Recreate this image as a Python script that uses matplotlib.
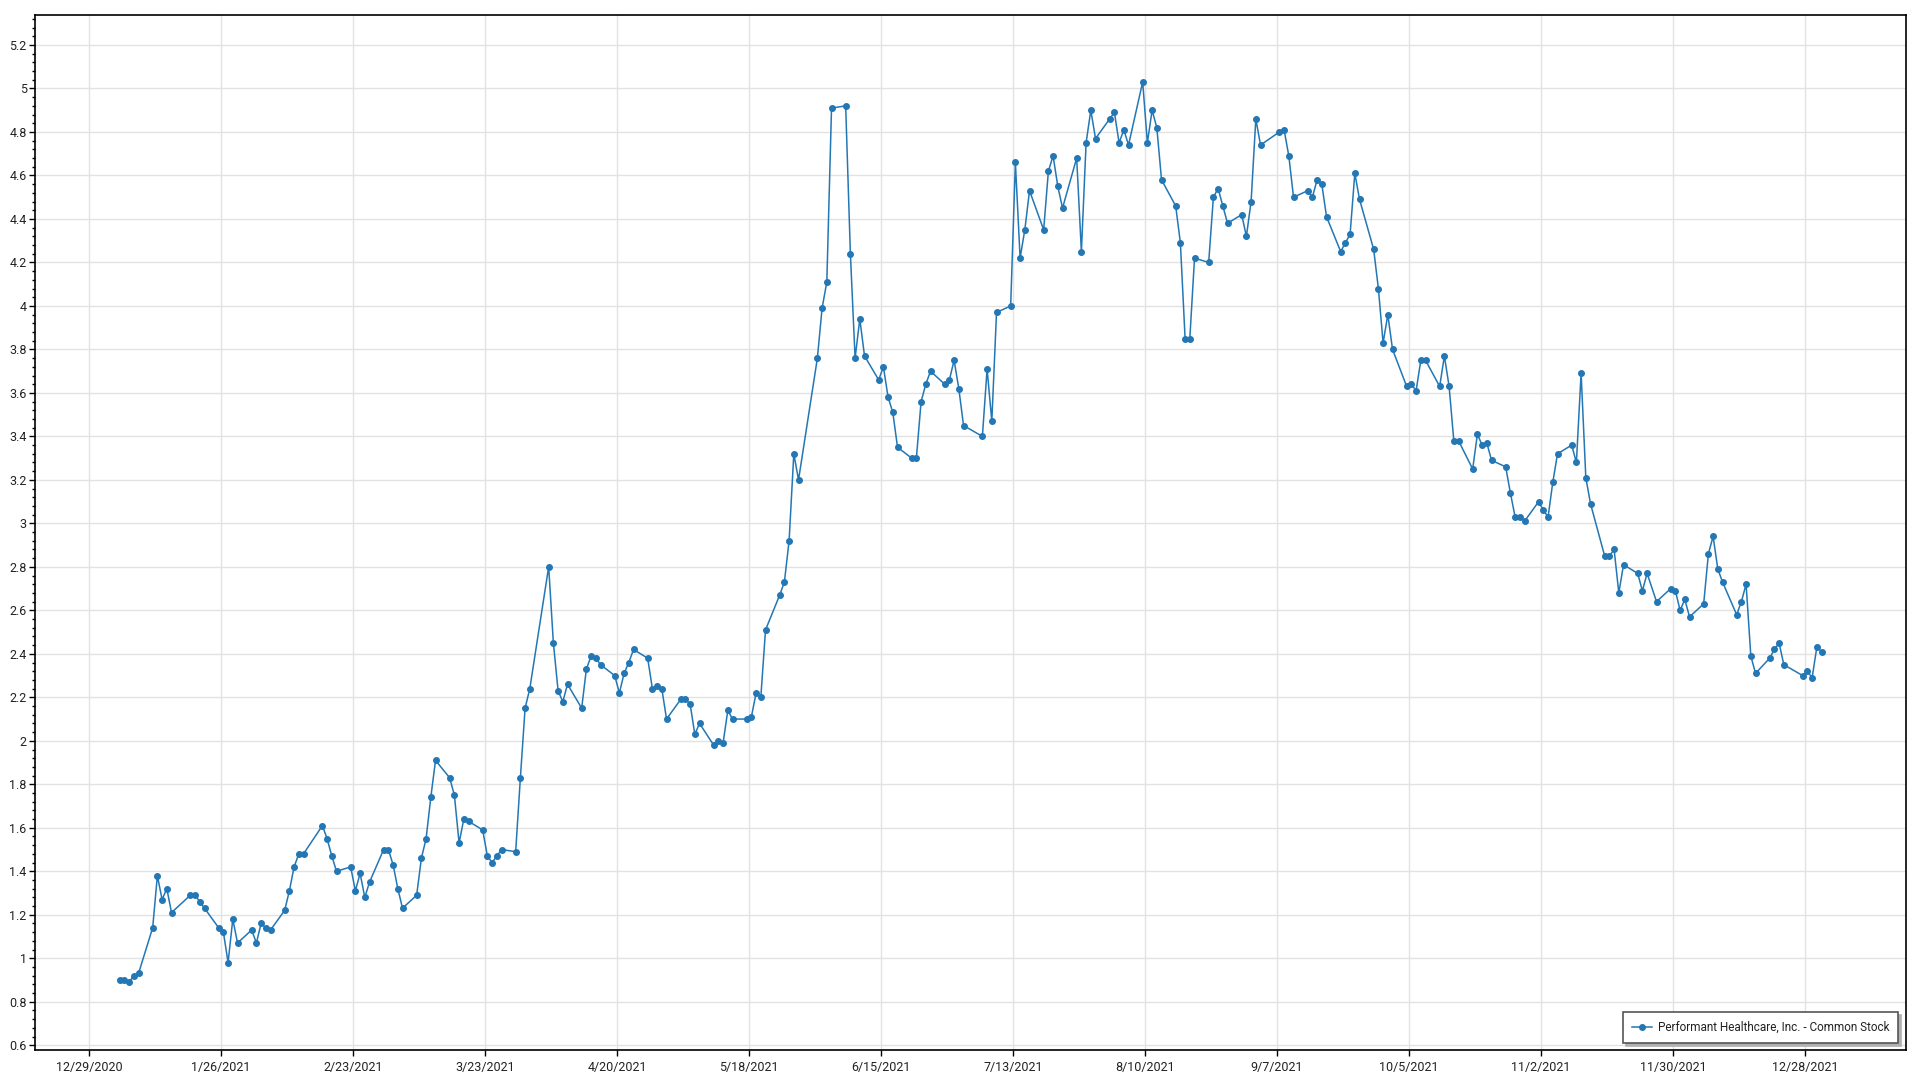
import numpy as np
import pandas as pd
import matplotlib
matplotlib.use('Agg')
import matplotlib.pyplot as plt
from matplotlib.ticker import MultipleLocator

plt.rcParams['font.family'] = ['Roboto', 'DejaVu Sans']

# --- Data (closing price per trading day) ---
series_name = 'Performant Healthcare, Inc. - Common Stock'

market_holidays = ['2021-01-01', '2021-01-18', '2021-02-15', '2021-04-02', '2021-05-31',
                   '2021-07-05', '2021-09-06', '2021-11-25', '2021-12-24']

jan = [0.90, 0.90, 0.89, 0.92, 0.93, 1.14, 1.38, 1.27, 1.32, 1.21,
       1.29, 1.29, 1.26, 1.23, 1.14, 1.12, 0.98, 1.18, 1.07]
feb = [1.13, 1.07, 1.16, 1.14, 1.13, 1.22, 1.31, 1.42, 1.48, 1.48,
       1.61, 1.55, 1.47, 1.40, 1.42, 1.31, 1.39, 1.28, 1.35]
mar = [1.50, 1.50, 1.43, 1.32, 1.23, 1.29, 1.46, 1.55, 1.74, 1.91,
       1.83, 1.75, 1.53, 1.64, 1.63, 1.59, 1.47, 1.44, 1.47, 1.50,
       1.49, 1.83, 2.15]
apr = [2.24, 2.80, 2.45, 2.23, 2.18, 2.26, 2.15, 2.33, 2.39, 2.38,
       2.35, 2.30, 2.22, 2.31, 2.36, 2.42, 2.38, 2.24, 2.25, 2.24, 2.10]
may = [2.19, 2.19, 2.17, 2.03, 2.08, 1.98, 2.00, 1.99, 2.14, 2.10,
       2.10, 2.11, 2.22, 2.20, 2.51, 2.67, 2.73, 2.92, 3.32, 3.20]
jun = [3.76, 3.99, 4.11, 4.91, 4.92, 4.24, 3.76, 3.94, 3.77, 3.66,
       3.72, 3.58, 3.51, 3.35, 3.30, 3.30, 3.56, 3.64, 3.70, 3.64,
       3.66, 3.75]
jul = [3.62, 3.45, 3.40, 3.71, 3.47, 3.97, 4.00, 4.66, 4.22, 4.35,
       4.53, 4.35, 4.62, 4.69, 4.55, 4.45, 4.68, 4.25, 4.75, 4.90, 4.77]
aug = [4.86, 4.89, 4.75, 4.81, 4.74, 5.03, 4.75, 4.90, 4.82, 4.58,
       4.46, 4.29, 3.85, 3.85, 4.22, 4.20, 4.50, 4.54, 4.46, 4.38,
       4.42, 4.32]
sep = [4.48, 4.86, 4.74, 4.80, 4.81, 4.69, 4.50, 4.53, 4.50, 4.58,
       4.56, 4.41, 4.25, 4.29, 4.33, 4.61, 4.49, 4.26, 4.08, 3.83, 3.96]
oct_ = [3.80, 3.63, 3.64, 3.61, 3.75, 3.75, 3.63, 3.77, 3.63, 3.38,
        3.38, 3.25, 3.41, 3.36, 3.37, 3.29, 3.26, 3.14, 3.03, 3.03, 3.01]
nov = [3.10, 3.06, 3.03, 3.19, 3.32, 3.36, 3.28, 3.69, 3.21, 3.09,
       2.85, 2.85, 2.88, 2.68, 2.81, 2.77, 2.69, 2.77, 2.64, 2.70, 2.69]
dec = [2.60, 2.65, 2.57, 2.63, 2.86, 2.94, 2.79, 2.73, 2.58, 2.64,
       2.72, 2.39, 2.31, 2.38, 2.42, 2.45, 2.35, 2.30, 2.32, 2.29,
       2.43, 2.41]

prices = jan + feb + mar + apr + may + jun + jul + aug + sep + oct_ + nov + dec
dates = pd.bdate_range('2021-01-04', '2021-12-31', freq='C', holidays=market_holidays)
n = min(len(dates), len(prices))
dates = dates[:n] + pd.Timedelta(hours=12)
prices = prices[:n]

# --- Plot ---
fig = plt.figure(figsize=(19.2, 10.8), dpi=100)
ax = fig.add_axes([35 / 1920, 30 / 1080, 1871 / 1920, 1035 / 1080])

ax.plot(dates, prices, color='#2377b4', linewidth=1.1, marker='o', markersize=4,
        label=series_name, zorder=3)

# axis ranges
ax.set_ylim(0.578, 5.338)
ax.set_xlim(pd.Timestamp('2020-12-17 13:00'), pd.Timestamp('2022-01-18 10:00'))

# ticks
tick_dates = pd.date_range('2020-12-29', '2021-12-28', freq='28D')
ax.set_xticks(tick_dates)
ax.set_xticklabels([f'{d.month}/{d.day}/{d.year}' for d in tick_dates])
ax.yaxis.set_major_locator(MultipleLocator(0.2))
ax.yaxis.set_minor_locator(MultipleLocator(0.04))
ax.yaxis.set_major_formatter(plt.FuncFormatter(lambda v, p: f'{v:g}'))

ax.tick_params(axis='both', which='major', labelsize=9, length=4, width=1,
               colors='black', labelcolor='#222222')
ax.tick_params(axis='y', which='minor', length=2, width=1)
ax.tick_params(axis='y', pad=2)
ax.tick_params(axis='x', pad=4)

ax.grid(True, which='major', color='#e2e2e2', linewidth=1, zorder=0)
ax.set_axisbelow(True)

for sp in ax.spines.values():
    sp.set_color('black')
    sp.set_linewidth(1.2)

# legend
leg = ax.legend(loc='lower right', fontsize=8.5, frameon=True, fancybox=False,
                shadow={'color': '#b0b0b0', 'alpha': 1}, borderpad=0.75,
                handlelength=1.7, handletextpad=0.5, borderaxespad=0,
                bbox_to_anchor=(0.9957, 0.0068))
leg.get_frame().set_edgecolor('#555555')
leg.get_frame().set_linewidth(1.2)
for t in leg.get_texts():
    t.set_color('#222222')

plt.savefig('out.png', dpi=100)
